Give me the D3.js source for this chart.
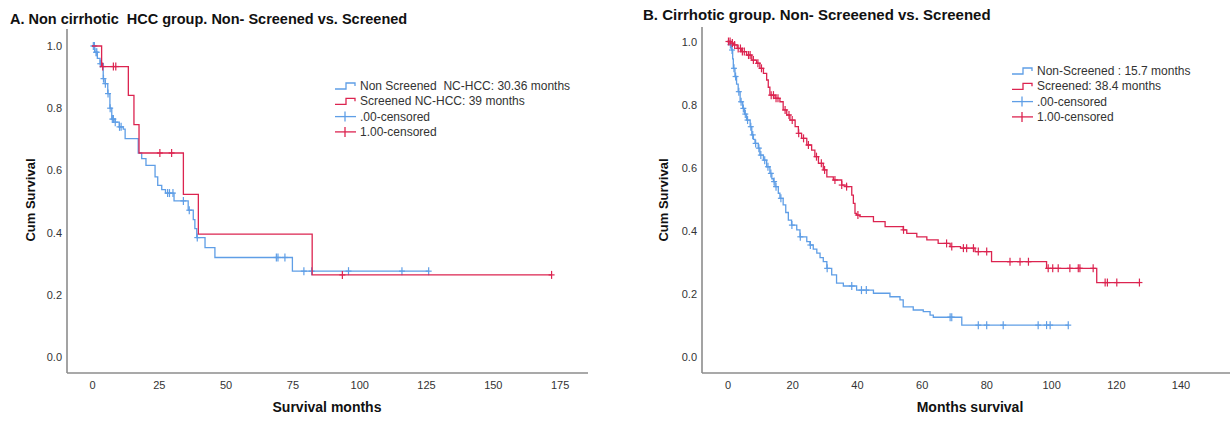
<!DOCTYPE html>
<html><head><meta charset="utf-8">
<script src="https://cdn.jsdelivr.net/npm/d3@7"></script>
<style>
html,body{margin:0;padding:0;background:#fff;}
svg{display:block;font-family:"Liberation Sans",Arial,sans-serif;}
svg text{white-space:pre;}
</style></head>
<body>
<svg id="chart" width="1232" height="421"></svg>
<script>
// ---------- DATA ----------
const titleA = "A. Non cirrhotic  HCC group. Non- Screened vs. Screened";
const titleB = "B. Cirrhotic group. Non- Screeened vs. Screened";
const xTicksA = [0,25,50,75,100,125,150,175];
const xTicksB = [0,20,40,60,80,100,120,140];
const yTicks = [0.0,0.2,0.4,0.6,0.8,1.0];
const legendA = ["Non Screened  NC-HCC: 30.36 months","Screened NC-HCC: 39 months",".00-censored","1.00-censored"];
const legendB = ["Non-Screened : 15.7 months","Screened: 38.4 months",".00-censored","1.00-censored"];

// Panel A, Non Screened: step times / survival after step
const aNonT = [0,1.0,2.0,3.0,4.2,4.9,5.9,6.7,7.4,8.6,10.2,11.7,12.4,17.3,18.6,20.2,23.6,24.6,26.1,27.5,30.7,36.0,37.9,38.5,39.2,42.3,46.0,75.0];
const aNonS = [1.0,0.98,0.96,0.943,0.895,0.879,0.847,0.80,0.765,0.755,0.74,0.733,0.702,0.656,0.638,0.616,0.579,0.552,0.538,0.527,0.502,0.472,0.442,0.413,0.384,0.352,0.320,0.276];
const aNonEnd = 126;
const aNonCens = [0.5,0.9,1.5,1.8,3.1,4.3,5.0,6.0,6.8,7.6,8.0,8.7,10.3,10.9,28.3,29.0,30.3,34.2,36.4,39.4,69.0,69.6,72.2,79.3,82.2,96.0,116.0,126];
// Panel A, Screened
const aScrT = [0,3.6,13.6,15.7,17.6,34.2,39.8,82.4];
const aScrS = [1.0,0.934,0.841,0.747,0.656,0.523,0.395,0.264];
const aScrEnd = 172;
const aScrCens = [4.0,8.0,8.9,25.4,29.8,93.7,172];

// Panel B, Non-Screened
const bNonT = [0,0.8,1.3,1.6,1.8,2.3,2.8,3.3,3.9,4.7,5.3,5.9,7.0,7.5,8.0,8.5,9.5,10.0,11.1,12.1,13.1,13.7,14.2,14.7,15.7,16.2,17.2,18.0,18.8,19.8,21.4,22.4,24.5,25.5,26.5,27.6,28.6,29.6,30.7,32.2,33.7,35.8,39.9,45.1,50.2,53.3,54.3,57.4,60.5,62.6,63.6,72.4];
const bNonS = [1.0,0.99,0.973,0.945,0.915,0.889,0.865,0.841,0.809,0.788,0.77,0.751,0.730,0.704,0.69,0.677,0.662,0.640,0.624,0.603,0.582,0.565,0.556,0.540,0.519,0.503,0.482,0.458,0.434,0.418,0.403,0.381,0.366,0.355,0.342,0.329,0.315,0.302,0.281,0.260,0.234,0.225,0.212,0.202,0.191,0.181,0.159,0.149,0.144,0.133,0.126,0.101];
const bNonEnd = 105.3;
const bNonCens = [0.9,1.4,2.0,2.5,3.5,4.2,4.9,5.5,6.2,7.2,7.8,8.7,9.7,10.3,11.5,12.5,13.4,14.4,15.0,16.5,19.9,22.5,25.6,30.8,38.4,41.4,42.9,68.8,69.3,77.5,80.1,85.2,96.0,98.6,99.7,105.3];
// Panel B, Screened
const bScrT = [0,1.0,1.8,3.0,4.4,5.9,7.5,9.0,10.0,11.1,12.1,12.6,13.1,14.7,16.2,17.2,18.3,19.3,20.9,21.9,22.9,24.5,26.0,27.0,28.1,29.6,30.7,32.7,35.3,36.8,38.4,38.9,39.4,39.9,40.9,45.1,48.7,54.3,55.4,58.5,61.6,65.1,68.8,72.0,76.5,81.6,98.6,114.1];
const bScrS = [1.0,0.995,0.989,0.978,0.968,0.957,0.941,0.931,0.915,0.899,0.878,0.855,0.830,0.820,0.809,0.783,0.767,0.751,0.730,0.709,0.693,0.672,0.656,0.635,0.614,0.593,0.571,0.561,0.545,0.540,0.513,0.487,0.455,0.450,0.445,0.429,0.413,0.403,0.392,0.381,0.371,0.360,0.350,0.345,0.334,0.302,0.281,0.236];
const bScrEnd = 127.3;
const bScrCens = [0.3,0.8,1.5,2.2,3.3,4.0,4.6,5.2,6.5,7.0,8.0,9.4,10.5,13.5,14.2,15.0,15.6,17.8,19.0,20.0,22.0,23.5,25.0,27.5,29.0,30.0,33.2,35.3,36.8,40.3,54.4,67.7,69.3,72.9,73.9,76.0,77.5,80.1,87.3,90.4,93.0,99.1,100.5,102.2,105.8,108.4,108.9,113.0,116.7,117.4,120.3,127.3];

// ---------- STYLE ----------
const BLUE = "#5f9ee6", RED = "#dc2450", AXIS = "#8c8c8c", TXT = "#333";
const svg = d3.select("#chart");

function stepVal(T,S,t){ let v=S[0]; for(let i=0;i<T.length;i++){ if(T[i]<=t) v=S[i]; } return v; }

function panel(cfg){
  const g = svg.append("g");
  const x = d3.scaleLinear().domain(cfg.xDomain).range(cfg.xRange);
  const y = d3.scaleLinear().domain([0,1]).range(cfg.yRange);
  g.append("line").attr("x1",cfg.axX).attr("x2",cfg.axX).attr("y1",cfg.axTop).attr("y2",cfg.axBottom)
    .attr("stroke",AXIS).attr("stroke-width",1.6);
  g.append("line").attr("x1",cfg.axX).attr("x2",cfg.axRight).attr("y1",cfg.axBottom).attr("y2",cfg.axBottom)
    .attr("stroke",AXIS).attr("stroke-width",1.6);
  const xa = g.append("g").attr("transform",`translate(0,${cfg.axBottom})`)
    .call(d3.axisBottom(x).tickValues(cfg.xTicks).tickSize(0).tickPadding(8).tickFormat(d3.format("d")));
  xa.select(".domain").remove();
  xa.selectAll("text").attr("fill",TXT).style("font-size","11px").style("font-family","'Liberation Sans',Arial,sans-serif");
  const ya = g.append("g").attr("transform",`translate(${cfg.axX},0)`)
    .call(d3.axisLeft(y).tickValues(yTicks).tickSize(0).tickPadding(5).tickFormat(d3.format(".1f")));
  ya.select(".domain").remove();
  ya.selectAll("text").attr("fill",TXT).style("font-size","11px").style("font-family","'Liberation Sans',Arial,sans-serif");
  g.append("text").attr("x",cfg.titleX).attr("y",cfg.titleY).text(cfg.title)
    .attr("font-weight","bold").attr("font-size",cfg.titleSize).attr("fill","#111");
  g.append("text").attr("x",cfg.xTitleX).attr("y",412).attr("text-anchor","middle").text(cfg.xTitle)
    .attr("font-weight","bold").attr("font-size","14px").attr("fill","#111");
  g.append("text").attr("transform",`translate(${cfg.yTitleX},${cfg.yTitleY}) rotate(-90)`)
    .attr("text-anchor","middle").text("Cum Survival")
    .attr("font-weight","bold").attr("font-size","13px").attr("fill","#111");
  const line = d3.line().x(d=>x(d[0])).y(d=>y(d[1])).curve(d3.curveStepAfter);
  cfg.series.forEach(s=>{
    const pts = s.T.map((t,i)=>[t,s.S[i]]);
    pts.push([s.end, s.S[s.S.length-1]]);
    g.append("path").attr("d",line(pts)).attr("fill","none").attr("stroke",s.color).attr("stroke-width",1.3);
    const cg = g.append("g").attr("stroke",s.color).attr("stroke-width",1.2);
    s.C.forEach(c=>{
      const cx = x(c), cy = y(stepVal(s.T,s.S,c));
      cg.append("line").attr("x1",cx).attr("x2",cx).attr("y1",cy-4).attr("y2",cy+4);
      cg.append("line").attr("x1",cx-3).attr("x2",cx+3).attr("y1",cy).attr("y2",cy);
    });
  });
  const lg = g.append("g");
  cfg.legend.forEach((txt,i)=>{
    const ly = cfg.legY + i*cfg.legDy;
    const col = (i%2===0)?BLUE:RED;
    const lx = cfg.legX;
    if(i<2){
      lg.append("path").attr("d",`M${lx},${ly+3}H${lx+11}V${ly-3}H${lx+20}V${ly}`)
        .attr("fill","none").attr("stroke",col).attr("stroke-width",1.3);
    } else {
      lg.append("line").attr("x1",lx).attr("x2",lx+21).attr("y1",ly).attr("y2",ly).attr("stroke",col).attr("stroke-width",1.3);
      lg.append("line").attr("x1",lx+10).attr("x2",lx+10).attr("y1",ly-5).attr("y2",ly+5).attr("stroke",col).attr("stroke-width",1.3);
    }
    lg.append("text").attr("x",lx+25).attr("y",ly+4).text(txt).attr("font-size","12px").attr("fill",TXT);
  });
}

panel({
  xDomain:[0,175], xRange:[92, 92+175*2.672], yRange:[357,46],
  axX:67, axTop:29, axBottom:373, axRight:588,
  xTicks:xTicksA, title:titleA, titleX:10, titleY:24, titleSize:"14.5px",
  xTitle:"Survival months", xTitleX:327, yTitleX:35, yTitleY:200,
  legend:legendA, legX:335, legY:86, legDy:15.3,
  series:[
    {T:aNonT,S:aNonS,end:aNonEnd,C:aNonCens,color:BLUE},
    {T:aScrT,S:aScrS,end:aScrEnd,C:aScrCens,color:RED}
  ]
});
panel({
  xDomain:[0,140], xRange:[727.5, 727.5+140*3.236], yRange:[357,41.5],
  axX:702, axTop:27, axBottom:373, axRight:1230,
  xTicks:xTicksB, title:titleB, titleX:643, titleY:19.5, titleSize:"15px",
  xTitle:"Months survival", xTitleX:970, yTitleX:668, yTitleY:200,
  legend:legendB, legX:1012, legY:71, legDy:15.3,
  series:[
    {T:bNonT,S:bNonS,end:bNonEnd,C:bNonCens,color:BLUE},
    {T:bScrT,S:bScrS,end:bScrEnd,C:bScrCens,color:RED}
  ]
});
</script>
</body></html>
